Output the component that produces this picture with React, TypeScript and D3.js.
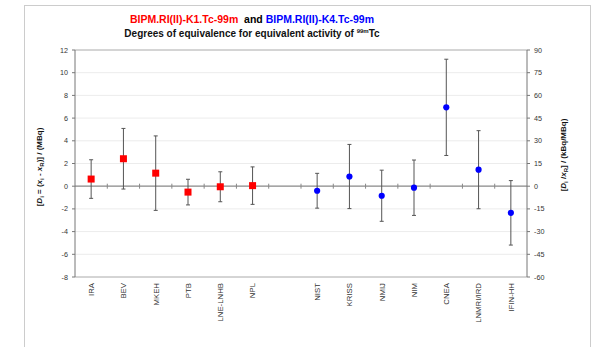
import React from "react";
import * as d3 from "d3";

// K1 comparison (left axis, MBq)
const k1Labs = ["IRA", "BEV", "MKEH", "PTB", "LNE-LNHB", "NPL"];
const k1Di = [0.63, 2.42, 1.15, -0.52, -0.05, 0.05];
const k1U = [1.7, 2.67, 3.28, 1.13, 1.32, 1.65];

// K4 comparison (right axis, kBq/MBq)
const k4Labs = ["NIST", "KRISS", "NMIJ", "NIM", "CNEA", "LNMRI/IRD", "IFIN-HH"];
const k4Di = [-3.0, 6.4, -6.3, -1.0, 52.1, 10.9, -17.6];
const k4U = [11.5, 21.2, 16.9, 18.3, 31.8, 25.8, 21.3];

const leftTicks = [-8, -6, -4, -2, 0, 2, 4, 6, 8, 10, 12];
const rightTicks = [-60, -45, -30, -15, 0, 15, 30, 45, 60, 75, 90];

const GAP = "_gap";
const cats = [...k1Labs, GAP, ...k4Labs];

const W = 596;
const H = 347;
const m = { left: 75, right: 527, top: 50, bottom: 277 };
const FONT = "'Liberation Sans', Arial, sans-serif";

export default function App() {
  const x = d3.scaleBand().domain(cats).range([m.left, m.right]).padding(0);
  const yL = d3.scaleLinear().domain([-8, 12]).range([m.bottom, m.top]);
  const yR = d3.scaleLinear().domain([-60, 90]).range([m.bottom, m.top]);
  const cx = (c: string) => (x(c) as number) + x.bandwidth() / 2;
  const bounds = cats.slice(1).map((c) => x(c) as number);

  const errBar = (xc: number, y0: number, y1: number, key: string) => (
    <g key={key} stroke="#555" strokeWidth={1}>
      <line x1={xc} x2={xc} y1={y0} y2={y1} />
      <line x1={xc - 2} x2={xc + 2} y1={y0} y2={y0} />
      <line x1={xc - 2} x2={xc + 2} y1={y1} y2={y1} />
    </g>
  );

  return (
    <svg
      width={W}
      height={H}
      style={{ position: "absolute", left: 0, top: 0, background: "#fff" }}
      fontFamily={FONT}
    >
      {/* outer chart frame */}
      <rect x={24.5} y={5.5} width={566} height={370} fill="none" stroke="#ccc" />

      {/* title */}
      <text x={252} y={23} textAnchor="middle" fontSize={10.5} fontWeight="bold" xmlSpace="preserve">
        <tspan fill="#ff0000">BIPM.RI(II)-K1.Tc-99m</tspan>
        <tspan fill="#000">{"  and "}</tspan>
        <tspan fill="#0000ff">BIPM.RI(II)-K4.Tc-99m</tspan>
      </text>
      <text x={252} y={37} textAnchor="middle" fontSize={10} fontWeight="bold" fill="#111">
        Degrees of equivalence for equivalent activity of{" "}
        <tspan fontSize={6} dy={-4}>99m</tspan>
        <tspan dy={4}>Tc</tspan>
      </text>

      {/* gridlines */}
      {leftTicks.map((t) => (
        <line
          key={"g" + t}
          x1={m.left}
          x2={m.right}
          y1={yL(t)}
          y2={yL(t)}
          stroke={t === 0 ? "#888" : t === 12 || t === -8 ? "#aaa" : "#ececec"}
          strokeWidth={t === 0 ? 1.2 : 1}
        />
      ))}

      {/* category boundary ticks on zero line */}
      {bounds.map((b, i) => (
        <line key={"b" + i} x1={b} x2={b} y1={yL(0) - 2.5} y2={yL(0) + 2.5} stroke="#888" />
      ))}

      {/* left axis */}
      <line x1={m.left} x2={m.left} y1={m.top} y2={m.bottom} stroke="#777" />
      {leftTicks.map((t) => (
        <g key={"l" + t}>
          <line x1={m.left - 3} x2={m.left} y1={yL(t)} y2={yL(t)} stroke="#777" />
          <text x={m.left - 7} y={yL(t) + 2.5} textAnchor="end" fontSize={7.2} fill="#333">
            {t}
          </text>
        </g>
      ))}

      {/* right axis */}
      <line x1={m.right} x2={m.right} y1={m.top} y2={m.bottom} stroke="#777" />
      {rightTicks.map((t) => (
        <g key={"r" + t}>
          <line x1={m.right} x2={m.right + 3} y1={yR(t)} y2={yR(t)} stroke="#777" />
          <text x={m.right + 7} y={yR(t) + 2.5} textAnchor="start" fontSize={7.2} fill="#333">
            {t}
          </text>
        </g>
      ))}

      {/* axis titles */}
      <text
        transform={`translate(42,167) rotate(-90)`}
        textAnchor="middle"
        fontSize={8}
        fontWeight="bold"
        fill="#111"
      >
        [<tspan fontStyle="italic">D</tspan>
        <tspan fontSize={6} dy={2}>i</tspan>
        <tspan dy={-2}> = (</tspan>
        <tspan fontStyle="italic">x</tspan>
        <tspan fontSize={6} dy={2}>i</tspan>
        <tspan dy={-2}> - </tspan>
        <tspan fontStyle="italic">x</tspan>
        <tspan fontSize={6} dy={2}>R</tspan>
        <tspan dy={-2}>)] / (MBq)</tspan>
      </text>
      <text
        transform={`translate(566,155) rotate(-90)`}
        textAnchor="middle"
        fontSize={8}
        fontWeight="bold"
        fill="#111"
      >
        [<tspan fontStyle="italic">D</tspan>
        <tspan fontSize={6} dy={2}>i</tspan>
        <tspan dy={-2}> /</tspan>
        <tspan fontStyle="italic">x</tspan>
        <tspan fontSize={6} dy={2}>R</tspan>
        <tspan dy={-2}>] / (kBq/MBq)</tspan>
      </text>

      {/* x labels */}
      {cats
        .filter((c) => c !== GAP)
        .map((c) => (
          <text
            key={"x" + c}
            transform={`translate(${cx(c) + 2.8},${m.bottom + 6}) rotate(-90)`}
            textAnchor="end"
            fontSize={7.8}
            fill="#333"
          >
            {c}
          </text>
        ))}

      {/* K1 error bars and markers */}
      {k1Labs.map((c, i) =>
        errBar(cx(c), yL(k1Di[i] + k1U[i]), yL(k1Di[i] - k1U[i]), "e1" + c)
      )}
      {k1Labs.map((c, i) => (
        <rect
          key={"p1" + c}
          x={cx(c) - 3.5}
          y={yL(k1Di[i]) - 3.5}
          width={7}
          height={7}
          fill="#ff0000"
        />
      ))}

      {/* K4 error bars and markers */}
      {k4Labs.map((c, i) =>
        errBar(cx(c), yR(k4Di[i] + k4U[i]), yR(k4Di[i] - k4U[i]), "e4" + c)
      )}
      {k4Labs.map((c, i) => (
        <circle key={"p4" + c} cx={cx(c)} cy={yR(k4Di[i])} r={3.1} fill="#0000ff" />
      ))}
    </svg>
  );
}
